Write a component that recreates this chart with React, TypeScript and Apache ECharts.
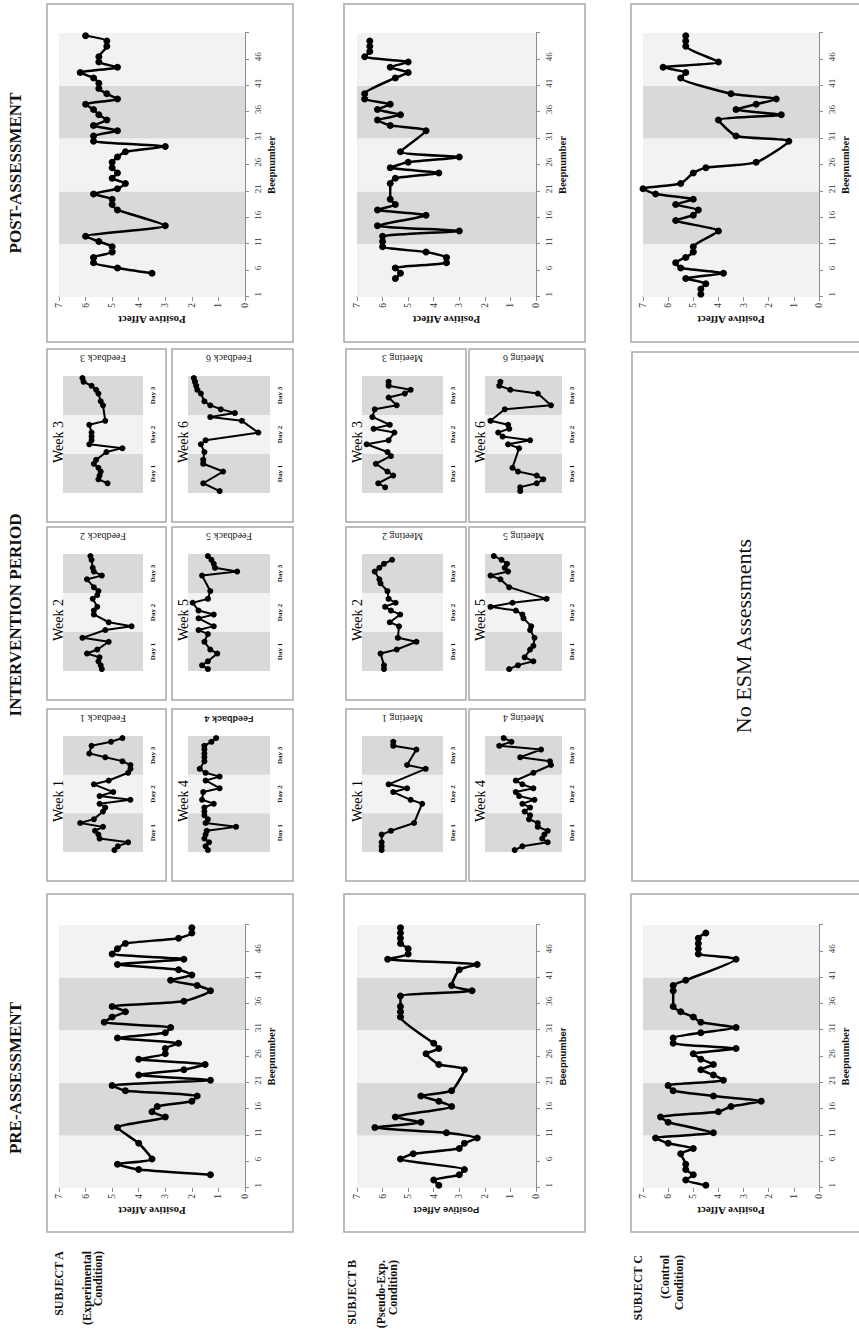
import React, { useEffect, useRef } from "react";
import * as echarts from "echarts";

const SERIF = '"Liberation Serif", "Times New Roman", serif';
const SANS = '"Liberation Sans", Arial, sans-serif';

// ---------- categories & labels ----------
const beepLabels50 = Array.from({ length: 50 }, (_, i) => String(i + 1));
const beepLabels30 = Array.from({ length: 30 }, (_, i) => String(i + 1));
const days5 = ["Day 1", "Day 2", "Day 3", "Day 4", "Day 5"];
const days3 = ["Day 1", "Day 2", "Day 3"];
const shade5 = ["#f2f2f2", "#d9d9d9", "#f2f2f2", "#d9d9d9", "#f2f2f2"];
const shade3 = ["#d9d9d9", "#f2f2f2", "#d9d9d9"];
const bandTop5 = [7, 7, 7, 7, 7];
const bandTop3 = [7, 7, 7];

const columnHeaders = ["PRE-ASSESSMENT", "INTERVENTION PERIOD", "POST-ASSESSMENT"];
const subjectLabels = [
  ["SUBJECT A", "(Experimental", "Condition)"],
  ["SUBJECT B", "(Pseudo-Exp.", "Condition)"],
  ["SUBJECT C", "(Control", "Condition)"],
];
const weekLabels = ["Week 1", "Week 2", "Week 3", "Week 4", "Week 5", "Week 6"];
const feedbackLabels = ["Feedback 1", "Feedback 2", "Feedback 3", "Feedback 4", "Feedback 5", "Feedback 6"];
const meetingLabels = ["Meeting 1", "Meeting 2", "Meeting 3", "Meeting 4", "Meeting 5", "Meeting 6"];
const valueAxisName = "Positive Affect";
const beepAxisName = "Beepnumber";
const noEsmText = "No ESM Assessments";

// ---------- pre / post assessment (50 beeps) ----------
const preA = [null, null, 1.3, 4.0, 4.8, 3.5, null, null, 4.0, null,
  null, 4.8, null, 3.0, 3.5, 3.3, 2.0, 1.8, 4.5, 5.0,
  1.3, 4.0, 2.3, 1.5, 4.0, 3.0, 3.0, 2.5, 4.8, 3.0,
  2.8, 5.3, 5.0, 4.5, 5.0, 2.3, null, 1.3, 1.8, 2.8,
  2.0, 2.5, 4.8, 2.3, 5.0, 4.8, 4.5, 2.5, 2.0, 2.0];
const preB = [3.8, 4.0, 3.0, 2.8, null, 5.3, 4.8, 3.0, 2.8, 2.3,
  3.5, 6.3, 4.5, 5.5, null, 3.3, 3.8, 4.5, 3.3, null,
  null, null, 2.8, 3.8, null, 4.3, 3.8, 4.0, null, null,
  null, null, 5.3, 5.3, 5.3, null, 5.3, 2.5, 3.3, null,
  null, 3.0, 2.3, 5.8, 5.0, 5.0, 5.3, 5.3, 5.3, 5.3];
const preC = [4.5, 5.3, 5.0, 5.3, 5.3, null, 5.5, 5.0, 6.0, 6.5,
  4.2, null, 6.0, 6.3, 4.0, 3.5, 2.3, 4.2, 5.8, 6.0,
  3.8, 4.2, 4.7, 4.2, 4.7, 5.0, 3.3, 5.8, 5.8, 4.7,
  3.3, 4.7, 5.0, 5.5, 5.8, null, null, 5.8, 5.8, 5.3,
  null, null, null, 3.3, 4.8, 4.8, 4.8, 4.8, 4.5, null];
const postA = [null, null, null, null, 3.5, 4.8, 5.7, 5.7, 5.0, 5.0,
  5.5, 6.0, null, 3.0, null, null, 4.8, 5.0, 5.0, 5.7,
  4.8, 4.5, 5.0, 4.8, 5.0, 5.0, 4.8, 4.5, 3.0, 5.7,
  5.7, 4.8, 5.7, 5.2, 5.5, 5.7, 6.0, 4.8, 5.2, 5.5,
  5.5, 5.7, 6.2, 4.8, 5.5, 5.5, null, 5.2, 5.2, 6.0];
const postB = [null, null, null, 5.5, 5.3, 5.5, 3.5, 3.5, 4.3, 6.0,
  6.0, 6.0, 3.0, 6.2, null, 4.3, 6.2, 5.5, 5.7, null,
  null, 5.7, 5.5, 3.8, 5.7, 5.0, 3.0, 5.3, null, null,
  null, 4.3, 5.7, 6.2, 5.3, 6.2, 5.7, 6.7, 6.7, null,
  null, 5.5, 5.0, 5.7, 5.0, 6.7, 6.5, 6.5, 6.5, null];
const postC = [4.7, 4.7, 4.5, 5.3, 3.8, 5.5, 5.7, 5.3, 5.0, 5.0,
  null, null, 4.0, null, 5.7, 5.0, 4.8, 5.7, 5.0, 6.5,
  7.0, 5.5, null, 5.0, 4.5, 2.5, null, null, null, 1.2,
  3.3, null, null, 4.0, 1.5, 3.3, 2.5, 1.7, 3.5, null,
  null, 5.5, 5.3, 6.2, 4.0, null, null, 5.3, 5.3, 5.3];

// ---------- intervention weeks (30 beeps each) ----------
const weekA1 = [2.5, 2.2, 1.3, 3.8, 3.9, 4.2, 3.5, 5.5, 4.3, null, 3.5, 3.3, 3.8, 1.1, 3.8, 2.6, null, 4.3, 3.0, null, 1.3, 1.1, 1.1, 1.8, 3.3, 4.7, null, 4.5, 2.8, 1.8];
const weekA2 = [3.6, 3.7, 3.9, 3.8, 4.9, 4.0, null, 3.0, 5.3, null, 3.3, 1.0, 3.0, null, 4.3, 4.3, 4.0, null, 4.4, 4.0, 3.9, 4.3, null, 4.9, 3.6, 4.3, 4.4, null, 4.5, 4.6];
const weekA3 = [null, null, 3.1, 3.9, 3.8, 3.7, 3.9, 4.3, 4.1, null, 3.2, 1.8, 4.7, 4.5, 4.5, 4.5, null, 4.7, 3.3, null, null, null, 3.5, 3.7, null, 3.9, 4.1, 4.5, 5.2, 5.3];
const weekA4 = [5.3, 5.5, 5.2, 5.6, 5.5, 5.4, 2.9, 5.5, 5.3, 5.6, 5.6, 5.6, 4.8, 5.8, null, 5.7, 4.3, null, 5.5, 4.3, 5.5, 6.0, null, 5.6, 5.6, 5.6, 5.6, 5.6, 5.0, 4.6];
const weekA5 = [5.3, 5.8, 5.3, null, 4.5, 5.1, null, 5.6, null, 5.3, 6.1, 4.8, null, 6.1, 4.8, 6.1, null, 6.6, 5.3, null, 5.1, null, null, null, 5.8, 2.8, 4.7, 4.8, 5.0, 5.3];
const weekA6 = [4.3, null, 5.7, null, null, 4.0, null, 5.7, 5.7, null, 5.6, null, 5.9, 5.5, null, 1.0, null, null, 2.4, 5.1, 3.0, 4.2, 5.1, 5.6, null, 5.9, 6.2, 6.3, 6.4, 6.5];
const weekB1 = [5.3, 5.3, 5.3, null, 5.3, 4.5, null, 2.5, null, null, null, null, 1.8, 2.8, null, 4.3, 3.1, 4.7, null, null, null, 1.5, 3.1, null, null, null, 2.3, 4.3, 4.3, null];
const weekB2 = [5.1, 5.1, null, null, 5.4, 4.0, null, 2.3, 3.9, null, null, 3.8, 4.6, null, 3.7, 4.5, 5.0, 4.1, 4.7, null, 4.8, null, 5.4, 5.5, null, 5.9, 5.5, 5.1, 4.4, null];
const weekB3 = [null, 5.0, 5.6, null, 4.3, 4.8, null, 5.8, null, 4.5, 4.8, null, 6.6, 4.7, null, 4.2, 6.0, 4.6, null, 6.1, null, 5.9, 4.0, null, 4.7, 3.3, 2.8, 4.7, 4.7, null];
const weekB4 = [4.3, 3.6, 1.3, 1.8, 1.6, 1.3, 2.2, 2.2, 3.0, 2.9, 3.4, 2.9, 3.6, 2.5, 3.9, 4.2, 2.6, 3.6, 4.2, null, 2.6, null, 1.0, 1.1, 3.8, null, 1.9, 5.7, 4.6, 5.3];
const weekB5 = [4.8, 4.0, 2.6, 3.4, null, 2.9, 2.6, null, 2.5, null, 2.9, 2.8, null, 3.5, 3.6, 4.2, 6.5, 4.5, 1.4, null, null, 4.8, null, 5.6, 6.5, 4.9, 5.2, 5.0, 5.5, 6.2];
const weekB6 = [3.8, 3.8, 2.3, 1.7, 2.3, 4.0, 4.5, null, null, null, null, 3.9, 4.9, 2.9, 5.4, 5.8, 4.8, 4.9, 6.5, null, null, 5.2, 1.0, null, null, 2.2, 4.7, 5.7, 5.6, null];

const weekData = [
  [weekA1, weekA2, weekA3, weekA4, weekA5, weekA6],
  [weekB1, weekB2, weekB3, weekB4, weekB5, weekB6],
];
const weekSideLabels = [feedbackLabels, meetingLabels];

// ---------- layout (chart drawn in landscape, page rotated) ----------
const CW = 1329;
const CH = 859;
const PRE_PLOT = [141, 404];
const POST_PLOT = [1032, 1296];
const BIG_ROWS = [[59, 245], [357, 536], [643, 819]];
const PRE_FRAME = [97, 435];
const POST_FRAME = [987, 1325];
const ROW_FRAMES = [[47, 293], [344, 585], [631, 880]];
const INT_COLS = [[448, 620], [629, 802], [807, 980]];
const INT_ROWS = [[[47, 166], [172, 293]], [[346, 466], [469, 585]]];
const HEADER_X = [251, 714, 1156];
const SUBJECT_RIGHT = [78, 69, 74];
const SUBJECT_Y = [[59, 87, 98], [352, 381, 393], [638, 665, 679]];

const bigPlots = [
  { data: preA, xr: PRE_PLOT, row: 0, sans: false },
  { data: preB, xr: PRE_PLOT, row: 1, sans: true },
  { data: preC, xr: PRE_PLOT, row: 2, sans: false },
  { data: postA, xr: POST_PLOT, row: 0, sans: false },
  { data: postB, xr: POST_PLOT, row: 1, sans: false },
  { data: postC, xr: POST_PLOT, row: 2, sans: false },
];

function buildOption() {
  const grid: any[] = [];
  const xAxis: any[] = [];
  const yAxis: any[] = [];
  const series: any[] = [];
  const graphic: any[] = [];
  const axisColor = "#8c8c8c";
  const frameStyle = { fill: "none", stroke: "#a8a8a8", lineWidth: 1.5 };

  // big pre / post plots
  bigPlots.forEach((p) => {
    const [y0, y1] = BIG_ROWS[p.row];
    const g = grid.length;
    grid.push({ left: p.xr[0], top: y0, width: p.xr[1] - p.xr[0], height: y1 - y0 });
    const nameFamily = p.sans ? SANS : SERIF;
    const nameSize = p.sans ? 9.5 : 10.5;
    const xb = xAxis.length;
    xAxis.push({
      type: "category", gridIndex: g, data: beepLabels50, boundaryGap: true, position: "bottom",
      axisLine: { show: true, onZero: false, lineStyle: { color: axisColor, width: 1 } },
      axisTick: { show: true, interval: 4, length: 4, lineStyle: { color: axisColor } },
      axisLabel: { interval: 4, fontSize: 9, fontFamily: SERIF, color: "#333", margin: 8 },
      splitLine: { show: false },
      name: beepAxisName, nameLocation: "middle", nameGap: 21,
      nameTextStyle: { fontWeight: "bold", fontSize: nameSize, fontFamily: nameFamily, color: "#111" },
    });
    const xd = xAxis.length;
    xAxis.push({
      type: "category", gridIndex: g, data: days5, boundaryGap: true, position: "bottom",
      axisLine: { show: false, onZero: false }, axisTick: { show: false }, splitLine: { show: false },
      axisLabel: { inside: true, margin: 9, fontSize: 11, fontWeight: "bold", fontFamily: SERIF, color: "#111" },
    });
    const yv = yAxis.length;
    yAxis.push({
      type: "value", gridIndex: g, min: 0, max: 7, interval: 1, position: "left",
      axisLine: { show: true, lineStyle: { color: axisColor, width: 1 } },
      axisTick: { show: true, length: 4, lineStyle: { color: axisColor } },
      axisLabel: { fontSize: 9.5, fontFamily: SERIF, color: "#333", margin: 6 },
      splitLine: { show: false },
      name: valueAxisName, nameLocation: "middle", nameGap: 17, nameRotate: 90,
      nameTextStyle: { fontWeight: "bold", fontSize: p.sans ? 9.5 : 11, fontFamily: nameFamily, color: "#111" },
    });
    series.push({
      type: "bar", xAxisIndex: xd, yAxisIndex: yv, silent: true, barWidth: "100%", barCategoryGap: "0%", z: 1,
      data: bandTop5.map((v, k) => ({ value: v, itemStyle: { color: shade5[k] } })),
    });
    series.push({
      type: "line", xAxisIndex: xb, yAxisIndex: yv, data: p.data, connectNulls: true, smooth: 0.18,
      showAllSymbol: true, symbol: "circle", symbolSize: 7,
      lineStyle: { color: "#000", width: 2.5 }, itemStyle: { color: "#000" }, z: 3,
    });
  });

  // frames for pre / post
  ROW_FRAMES.forEach((rf) => {
    [PRE_FRAME, POST_FRAME].forEach((f) => {
      graphic.push({ type: "rect", silent: true, shape: { x: f[0], y: rf[0], width: f[1] - f[0], height: rf[1] - rf[0] }, style: frameStyle });
    });
  });

  // intervention weeks
  INT_ROWS.forEach((rowBoxes, r) => {
    rowBoxes.forEach((box, rr) => {
      INT_COLS.forEach((col, c) => {
        const week = rr * 3 + c;
        const pl = col[0] + 29;
        const pr = col[1] - 27;
        const pt = box[0] + 16;
        const pb = box[1] - 23;
        graphic.push({ type: "rect", silent: true, shape: { x: col[0], y: box[0], width: col[1] - col[0], height: box[1] - box[0] }, style: frameStyle });
        graphic.push({
          type: "text", silent: true, x: pl + 30, y: box[0] + 11, z: 10,
          style: { text: weekLabels[week], fontSize: 14, fontFamily: SERIF, fill: "#000", align: "left", verticalAlign: "middle" },
        });
        const g = grid.length;
        grid.push({ left: pl, top: pt, width: pr - pl, height: pb - pt });
        const xb = xAxis.length;
        xAxis.push({ type: "category", gridIndex: g, data: beepLabels30, boundaryGap: true, show: false });
        const xd = xAxis.length;
        xAxis.push({
          type: "category", gridIndex: g, data: days3, boundaryGap: true, position: "bottom",
          axisLine: { show: false, onZero: false }, axisTick: { show: false }, splitLine: { show: false },
          axisLabel: { margin: 6, fontSize: 7, fontWeight: "bold", fontFamily: SERIF, color: "#111" },
        });
        const yv = yAxis.length;
        yAxis.push({ type: "value", gridIndex: g, min: 0, max: 7, show: false, position: "left" });
        const special = r === 0 && week === 3;
        yAxis.push({
          type: "value", gridIndex: g, min: 0, max: 7, position: "right",
          axisLine: { show: false }, axisTick: { show: false }, axisLabel: { show: false }, splitLine: { show: false },
          name: weekSideLabels[r][week], nameLocation: "middle", nameGap: 13, nameRotate: 90,
          nameTextStyle: {
            fontSize: special ? 9 : 10, fontWeight: special ? "bold" : "normal",
            fontFamily: special ? SANS : SERIF, color: "#222",
          },
        });
        series.push({
          type: "bar", xAxisIndex: xd, yAxisIndex: yv, silent: true, barWidth: "100%", barCategoryGap: "0%", z: 1,
          data: bandTop3.map((v, k) => ({ value: v, itemStyle: { color: shade3[k] } })),
        });
        series.push({
          type: "line", xAxisIndex: xb, yAxisIndex: yv, data: weekData[r][week], connectNulls: true,
          showAllSymbol: true, symbol: "circle", symbolSize: 6,
          lineStyle: { color: "#000", width: 2 }, itemStyle: { color: "#000" }, z: 3,
        });
      });
    });
  });

  // subject C: no intervention assessments
  const cBox = ROW_FRAMES[2];
  graphic.push({ type: "rect", silent: true, shape: { x: INT_COLS[0][0], y: cBox[0] + 1, width: 977 - INT_COLS[0][0], height: cBox[1] - cBox[0] }, style: frameStyle });
  graphic.push({
    type: "text", silent: true, x: 693, y: 743,
    style: { text: noEsmText, fontSize: 22, fontFamily: SERIF, fill: "#111", align: "center", verticalAlign: "middle" },
  });

  // column headers
  columnHeaders.forEach((h, i) => {
    graphic.push({
      type: "text", silent: true, x: HEADER_X[i], y: 15,
      style: { text: h, fontSize: 17, fontWeight: "bold", fontFamily: SERIF, fill: "#111", align: "center", verticalAlign: "middle" },
    });
  });

  // subject labels
  subjectLabels.forEach((lines, i) => {
    lines.forEach((t, j) => {
      graphic.push({
        type: "text", silent: true, x: SUBJECT_RIGHT[i], y: SUBJECT_Y[i][j],
        style: { text: t, fontSize: 12, fontWeight: "bold", fontFamily: SERIF, fill: "#111", align: "right", verticalAlign: "middle" },
      });
    });
  });

  return { animation: false, backgroundColor: "#ffffff", grid, xAxis, yAxis, series, graphic };
}

export default function App() {
  const ref = useRef<HTMLDivElement>(null);
  useEffect(() => {
    if (!ref.current) return;
    const chart = echarts.init(ref.current, undefined, { renderer: "svg" });
    chart.setOption(buildOption() as any);
    return () => chart.dispose();
  }, []);
  return (
    <div style={{ position: "fixed", left: 0, top: 0, width: 859, height: 1329, overflow: "hidden", background: "#fff" }}>
      <div
        ref={ref}
        style={{
          position: "absolute", left: 0, top: 0, width: CW, height: CH,
          transformOrigin: "0 0", transform: `translateY(${CW}px) rotate(-90deg)`,
        }}
      />
    </div>
  );
}
